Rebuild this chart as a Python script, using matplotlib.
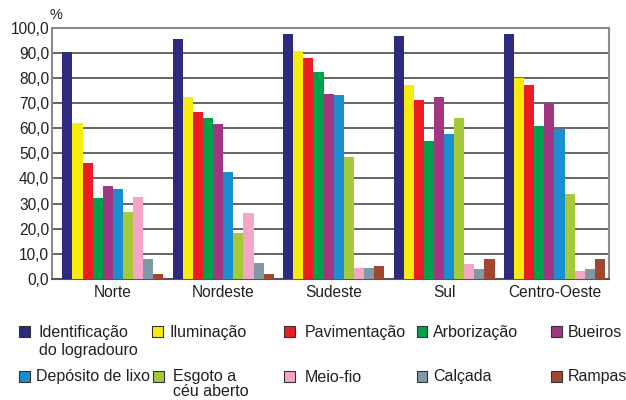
import matplotlib.pyplot as plt
from matplotlib.patches import Rectangle


regions = ["Norte", "Nordeste", "Sudeste", "Sul", "Centro-Oeste"]

series_labels = [
    "Identificação\ndo logradouro",
    "Iluminação",
    "Pavimentação",
    "Arborização",
    "Bueiros",
    "Depósito de lixo",
    "Esgoto a\ncéu aberto",
    "Meio-fio",
    "Calçada",
    "Rampas",
]

colors = [
    "#2E2A7E", "#F7EC0F", "#EC1C24", "#00A14B", "#A23682",
    "#1B8ED0", "#A5C93A", "#F4A6C9", "#7F9AA6", "#A1472F",
]

# one list per region, in the order of series_labels
norte = [90.2, 62.1, 46.2, 32.2, 37.0, 35.8, 26.7, 32.6, 8.0, 2.0]
nordeste = [95.5, 72.4, 66.4, 64.1, 61.7, 42.6, 18.3, 26.3, 6.4, 2.0]
sudeste = [97.5, 90.7, 87.9, 82.4, 73.6, 73.2, 48.5, 4.4, 4.4, 5.2]
sul = [96.7, 77.2, 71.2, 54.9, 72.4, 57.7, 64.1, 6.0, 4.0, 8.0]
centro_oeste = [97.5, 80.0, 77.2, 60.9, 70.0, 59.7, 33.8, 3.2, 4.0, 8.0]

values = [norte, nordeste, sudeste, sul, centro_oeste]

y_ticks = [0, 10, 20, 30, 40, 50, 60, 70, 80, 90, 100]


TEXT = "#231F20"
FONT = "Liberation Sans"
W, H = 626, 400


plt.rcParams["font.family"] = [FONT, "DejaVu Sans"]

fig = plt.figure(figsize=(W / 100, H / 100), dpi=100)

ax = fig.add_axes([52 / W, 1 - 279 / H, 557 / W, 251.3 / H])


bar_w = 0.0915

for j in range(len(series_labels)):

    xs = [i + (j - 4.5) * bar_w for i in range(len(regions))]
    ys = [values[i][j] for i in range(len(regions))]

    ax.bar(xs, ys, width=bar_w, color=colors[j], linewidth=0, zorder=3)


ax.set_xlim(-0.551, 4.494)
ax.set_ylim(0, 100)

ax.set_yticks(y_ticks)
ax.set_yticklabels([f"{t},0" for t in y_ticks], fontsize=11.2, color=TEXT)
ax.set_xticks(range(len(regions)))
ax.set_xticklabels(regions, fontsize=11.2, color=TEXT)

ax.tick_params(axis="both", length=0)
ax.tick_params(axis="y", pad=2)
ax.tick_params(axis="x", pad=4)

ax.grid(axis="y", color="#3a3a3a", linewidth=1.1, zorder=1)

for side in ["left", "right", "top", "bottom"]:
    ax.spines[side].set_color("#8a8a8a")
    ax.spines[side].set_linewidth(1.5)
ax.spines["bottom"].set_color("#555555")


fig.text(56 / W, 1 - 15 / H, "%", fontsize=10.5, color=TEXT,
         ha="center", va="center")


# legend drawn by hand: square x, text x, baseline y, line step (pixels from top)
legend_pos = [
    (19, 39, 337, 18), (152, 170, 337, 18), (284, 304.5, 337, 18),
    (416.5, 433, 337, 18), (551, 568, 337, 18),
    (19, 36, 381.5, 14.5), (152.5, 173, 381.5, 14.5), (284, 304.5, 381.5, 14.5),
    (416.5, 433, 381.5, 14.5), (551, 568, 381.5, 14.5),
]

for label, color, (sx, tx, base, step) in zip(series_labels, colors, legend_pos):

    fig.patches.append(
        Rectangle(
            (sx / W, 1 - base / H), 11 / W, 11 / H,
            transform=fig.transFigure, facecolor=color,
            edgecolor="#333333", linewidth=0.8
        )
    )

    for k, line in enumerate(label.split("\n")):
        fig.text(tx / W, 1 - (base + step * k) / H, line, fontsize=11.5,
                 color=TEXT, ha="left", va="baseline")


fig.savefig("out.png", dpi=100)
